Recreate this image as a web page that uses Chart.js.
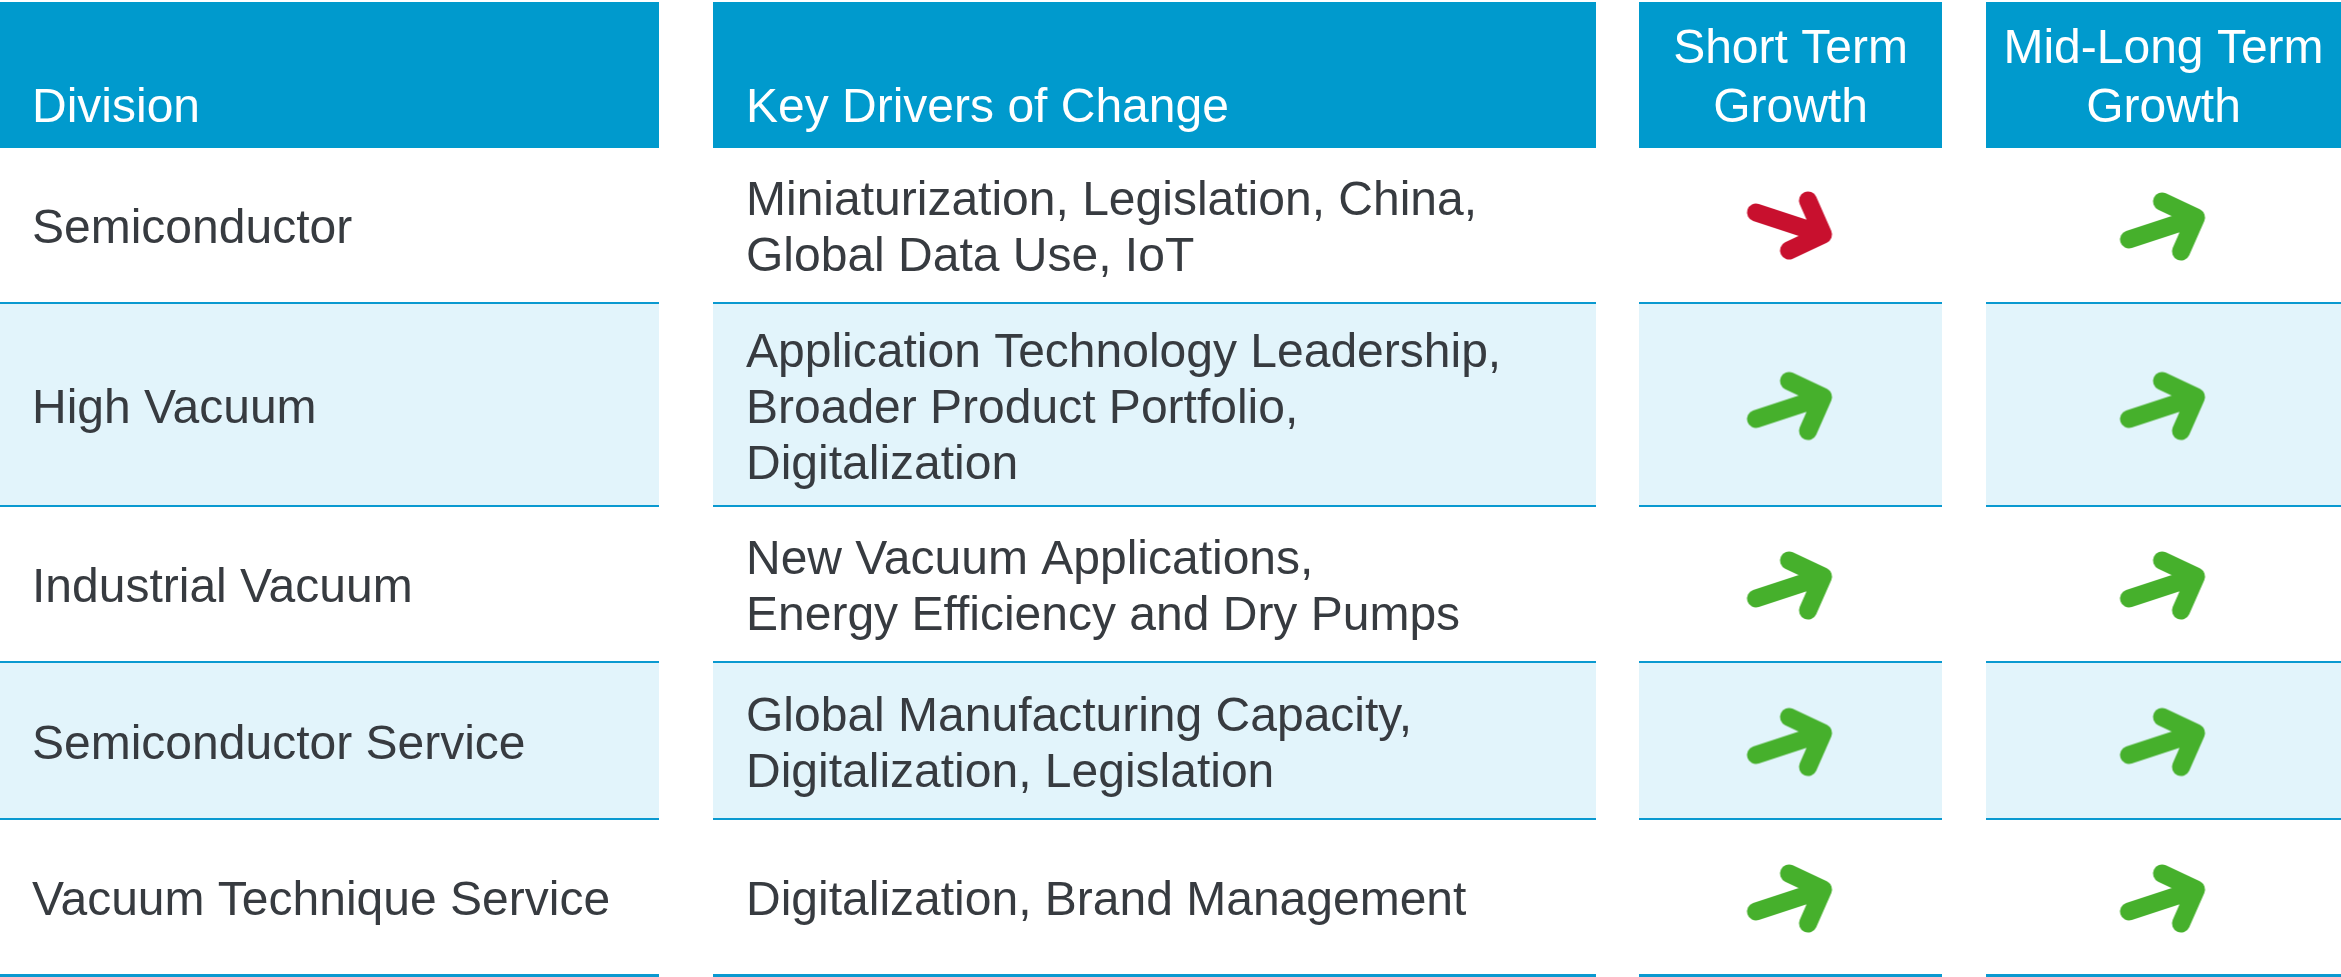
<!DOCTYPE html>
<html>
<head>
<meta charset="utf-8">
<title>Division growth outlook</title>
<script src="https://cdn.jsdelivr.net/npm/chart.js@4.4.1/dist/chart.umd.min.js"></script>
<style>
  html, body { margin: 0; padding: 0; background: #fff; }
  #wrap { width: 2341px; height: 977px; position: relative; }
</style>
</head>
<body>
<div id="wrap"><canvas id="growth-table"></canvas></div>
<script>
// ---- table content ----
const headers = [
    ['Division'],
    ['Key Drivers of Change'],
    ['Short Term', 'Growth'],
    ['Mid-Long Term', 'Growth']
];
const divisions = [
    'Semiconductor',
    'High Vacuum',
    'Industrial Vacuum',
    'Semiconductor Service',
    'Vacuum Technique Service'
];
const drivers = [
    ['Miniaturization, Legislation, China,', 'Global Data Use, IoT'],
    ['Application Technology Leadership,', 'Broader Product Portfolio,', 'Digitalization'],
    ['New Vacuum Applications,', 'Energy Efficiency and Dry Pumps'],
    ['Global Manufacturing Capacity,', 'Digitalization, Legislation'],
    ['Digitalization, Brand Management']
];
const shortTermGrowth = ['down', 'up', 'up', 'up', 'up'];
const midLongTermGrowth = ['up', 'up', 'up', 'up', 'up'];

// ---- layout (scale units = canvas px) ----
const WIDTH = 2341, HEIGHT = 977;
const columns = [
    { left: 0, right: 659, textX: 32, align: 'left' },
    { left: 713, right: 1596, textX: 746, align: 'left' },
    { left: 1639, right: 1942, align: 'center' },
    { left: 1986, right: 2341, align: 'center' }
];
const headerTop = 2;
const headerBottom = 148;
const rowBottoms = [304, 507, 663, 820, 976];
const lineGap = 56;

// ---- colours ----
const HEADER_BLUE = '#009ACD';
const LINE_BLUE = '#0A99D0';
const ROW_TINT = '#E2F4FB';
const TEXT_DARK = '#373B40';
const GREEN = '#46B02C';
const RED = '#C8102E';
const FONT = '48px "Liberation Sans", Arial, sans-serif';

const rowTop = i => (i === 0 ? headerBottom : rowBottoms[i - 1]);
const rowCenter = i => (rowTop(i) + rowBottoms[i]) / 2;
const colCenter = c => (columns[c].left + columns[c].right) / 2;

// arrow marks, drawn once and used as point styles
function makeArrow(color, flip) {
    const c = document.createElement('canvas');
    c.width = 110;
    c.height = 100;
    const g = c.getContext('2d');
    g.translate(55, 50);
    if (flip) g.scale(1, -1);
    g.strokeStyle = color;
    g.lineWidth = 18;
    g.lineCap = 'round';
    g.lineJoin = 'round';
    g.beginPath();
    g.moveTo(-34.5, 13.5);
    g.lineTo(32.5, -8.5);
    g.moveTo(-1.5, -24.5);
    g.lineTo(32.5, -8.5);
    g.lineTo(17.5, 25.5);
    g.stroke();
    return c;
}
const arrows = { up: makeArrow(GREEN, false), down: makeArrow(RED, true) };

const tablePlugin = {
    id: 'tableCells',
    beforeDatasetsDraw(chart) {
        const { ctx, scales: { x, y } } = chart;
        ctx.save();
        columns.forEach(col => {
            const l = x.getPixelForValue(col.left);
            const r = x.getPixelForValue(col.right);

            // header cell
            ctx.fillStyle = HEADER_BLUE;
            ctx.fillRect(l, y.getPixelForValue(headerTop), r - l,
                y.getPixelForValue(headerBottom) - y.getPixelForValue(headerTop));

            // body cells + blue rule under each row
            rowBottoms.forEach((bottom, i) => {
                const t = y.getPixelForValue(rowTop(i));
                const b = y.getPixelForValue(bottom);
                ctx.fillStyle = i % 2 === 1 ? ROW_TINT : '#ffffff';
                ctx.fillRect(l, t, r - l, b - t);
                ctx.fillStyle = LINE_BLUE;
                ctx.fillRect(l, b - 2, r - l, 3);
            });
        });
        ctx.restore();
    },
    afterDatasetsDraw(chart) {
        const { ctx, scales: { x, y } } = chart;
        ctx.save();
        ctx.font = FONT;
        ctx.textBaseline = 'alphabetic';

        // headers, bottom-aligned
        ctx.fillStyle = '#ffffff';
        headers.forEach((lines, c) => {
            const col = columns[c];
            ctx.textAlign = col.align;
            const tx = col.align === 'center' ? colCenter(c) : col.textX;
            lines.forEach((line, k) => {
                const base = 122 - (lines.length - 1 - k) * 59;
                ctx.fillText(line, x.getPixelForValue(tx), y.getPixelForValue(base));
            });
        });

        // body text, vertically centred
        ctx.fillStyle = TEXT_DARK;
        ctx.textAlign = 'left';
        const drawBlock = (lines, c, i) => {
            const first = rowCenter(i) - (lines.length - 1) * lineGap / 2 + 17;
            lines.forEach((line, k) => {
                ctx.fillText(line, x.getPixelForValue(columns[c].textX),
                    y.getPixelForValue(first + k * lineGap));
            });
        };
        divisions.forEach((d, i) => drawBlock([d], 0, i));
        drivers.forEach((lines, i) => drawBlock(lines, 1, i));
        ctx.restore();
    }
};

const trendData = (values, c) => values.map((t, i) => ({ x: colCenter(c), y: rowCenter(i), trend: t }));

new Chart(document.getElementById('growth-table'), {
    type: 'scatter',
    data: {
        datasets: [
            { label: 'Short Term Growth', data: trendData(shortTermGrowth, 2) },
            { label: 'Mid-Long Term Growth', data: trendData(midLongTermGrowth, 3) }
        ]
    },
    options: {
        responsive: true,
        maintainAspectRatio: false,
        animation: false,
        events: [],
        layout: { padding: 0, autoPadding: false },
        elements: {
            point: {
                radius: 10,
                pointStyle: (ctx) => arrows[ctx.raw.trend]
            }
        },
        plugins: {
            legend: { display: false },
            tooltip: { enabled: false }
        },
        scales: {
            x: { type: 'linear', min: 0, max: WIDTH, display: false },
            y: { type: 'linear', min: 0, max: HEIGHT, reverse: true, display: false }
        }
    },
    plugins: [tablePlugin]
});
</script>
</body>
</html>
